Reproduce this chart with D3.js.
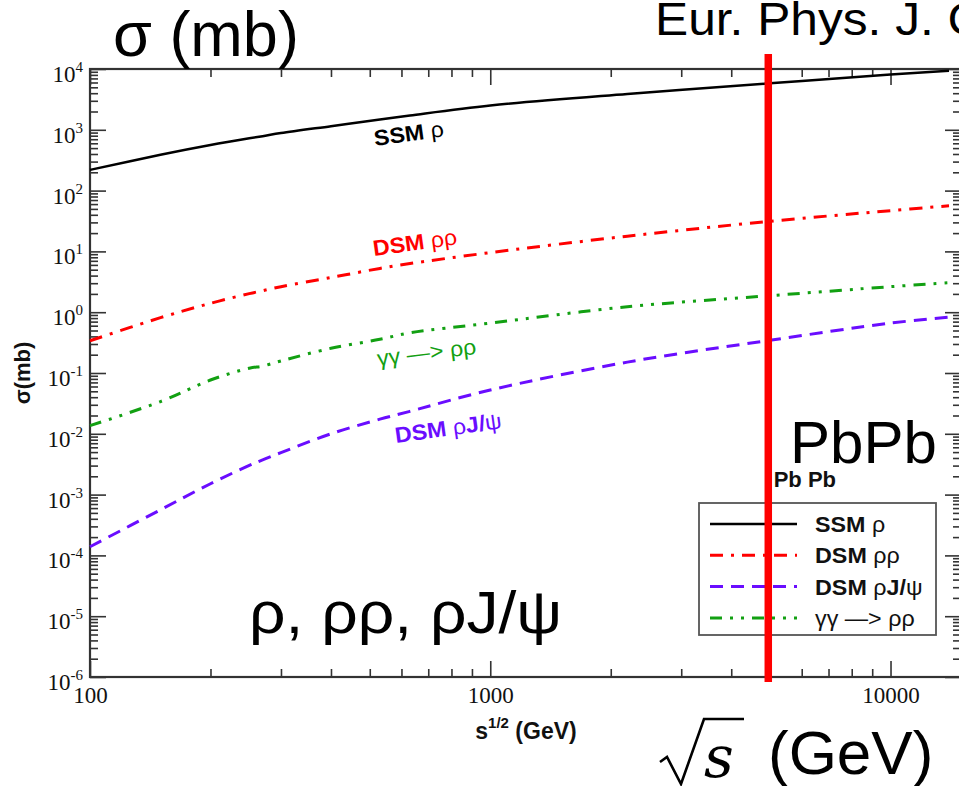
<!DOCTYPE html>
<html>
<head>
<meta charset="utf-8">
<script src="https://cdnjs.cloudflare.com/ajax/libs/d3/7.8.5/d3.min.js"></script>
<style>
	html, body { margin: 0; padding: 0; background: #fff; overflow: hidden; }
	svg { display: block; }
</style>
</head>
<body>
<script>
(function() {
	'use strict';

	// DATA //

	var ENERGIES = [ 100, 150, 200, 250, 270, 300, 400, 530, 630, 1000, 2200, 4900, 10000, 14000 ],
		SSM_RHO = [ 219, 389, 562, 724, 785, 883, 1148, 1479, 1722, 2512, 3890, 5754, 8128, 9333 ],
		DSM_RHORHO = [ 0.339, 0.813, 1.40, 2.02, 2.26, 2.63, 3.72, 5.25, 6.31, 9.55, 17.8, 30.9, 46.8, 56.2 ],
		DSM_RHOJPSI = [ 1.39e-4, 5.62e-4, 1.51e-3, 3.02e-3, 3.72e-3, 4.90e-3, 0.0100, 0.0174, 0.0234, 0.0525, 0.151, 0.339, 0.661, 0.832 ],
		GG_RHORHO = [ 0.0136, 0.0339, 0.0767, 0.120, 0.130, 0.158, 0.255, 0.358, 0.457, 0.661, 1.23, 1.85, 2.63, 3.05 ],
		X_TICKS = [ 100, 1000, 10000 ],
		X_TICK_LABELS = [ '100', '1000', '10000' ],
		Y_EXPONENTS = [ -6, -5, -4, -3, -2, -1, 0, 1, 2, 3, 4 ],
		PBPB_ENERGY = 4950;


	// VARIABLES //

	var WIDTH = 959,
		HEIGHT = 786,
		LEFT = 90,
		RIGHT = 961,
		TOP = 69,
		BOTTOM = 677,
		AXIS = '#333',
		SANS = '"Liberation Sans", Arial, Helvetica, sans-serif',
		SERIF = '"Liberation Serif", "Times New Roman", serif';

	var series = [
		{ values: SSM_RHO, color: '#000', dash: null, width: 2.5,
			label: [ [ 'SSM ', 'bold' ], [ 'ρ', 'normal' ] ], at: [ 375, 146 ], rot: -8 },
		{ values: DSM_RHORHO, color: '#ff0000', dash: '13,8,3,8', width: 3,
			label: [ [ 'DSM ', 'bold' ], [ 'ρρ', 'normal' ] ], at: [ 374, 256 ], rot: -8 },
		{ values: DSM_RHOJPSI, color: '#6a0dff', dash: '13,8', width: 3,
			label: [ [ 'DSM ', 'bold' ], [ 'ρ', 'normal' ], [ 'J/', 'bold' ], [ 'ψ', 'normal' ] ], at: [ 396, 443 ], rot: -8 },
		{ values: GG_RHORHO, color: '#12a012', dash: '12,8,3,8,3,8', width: 3,
			label: [ [ 'γγ —> ρρ', 'normal' ] ], at: [ 378, 366 ], rot: -7 }
	];


	// SCALES //

	var x = d3.scaleLog().domain( [ 100, 15000 ] ).range( [ LEFT, RIGHT ] ),
		y = d3.scaleLog().domain( [ 1e-6, 1e4 ] ).range( [ BOTTOM, TOP ] );

	var xMinor = [],
		yMinor = [],
		e, k;
	for ( e = 2; e <= 4; e++ ) {
		for ( k = 2; k <= 9; k++ ) {
			if ( k * Math.pow( 10, e ) <= 15000 ) {
				xMinor.push( k * Math.pow( 10, e ) );
			}
		}
	}
	for ( e = -6; e < 4; e++ ) {
		for ( k = 2; k <= 9; k++ ) {
			yMinor.push( k * Math.pow( 10, e ) );
		}
	}
	var yMajor = Y_EXPONENTS.map( function ( p ) { return Math.pow( 10, p ); } );


	// CANVAS //

	var svg = d3.select( 'body' ).append( 'svg' )
		.attr( 'width', WIDTH )
		.attr( 'height', HEIGHT )
		.attr( 'viewBox', '0 0 ' + WIDTH + ' ' + HEIGHT );

	svg.append( 'rect' )
		.attr( 'width', WIDTH )
		.attr( 'height', HEIGHT )
		.attr( 'fill', '#fff' );

	// Axes (ticks point inward on all four sides):
	function styleAxis( g ) {
		g.select( '.domain' ).remove();
		g.selectAll( '.tick line' ).attr( 'stroke', AXIS ).attr( 'stroke-width', 1.6 );
	}

	function noLabel() { return ''; }

	svg.append( 'g' )
		.attr( 'transform', 'translate(0,' + BOTTOM + ')' )
		.call( d3.axisBottom( x ).tickValues( xMinor ).tickSize( -8 ).tickFormat( noLabel ) )
		.call( styleAxis );

	svg.append( 'g' )
		.attr( 'transform', 'translate(0,' + BOTTOM + ')' )
		.call( d3.axisBottom( x ).tickValues( X_TICKS ).tickSize( -16 ).tickPadding( 10 )
			.tickFormat( function ( d, i ) { return X_TICK_LABELS[ i ]; } ) )
		.call( styleAxis )
		.selectAll( 'text' )
			.attr( 'font-family', SERIF )
			.attr( 'font-size', 23 )
			.attr( 'fill', '#111' );

	svg.append( 'g' )
		.attr( 'transform', 'translate(0,' + TOP + ')' )
		.call( d3.axisTop( x ).tickValues( xMinor ).tickSize( -8 ).tickFormat( noLabel ) )
		.call( styleAxis );

	svg.append( 'g' )
		.attr( 'transform', 'translate(0,' + TOP + ')' )
		.call( d3.axisTop( x ).tickValues( X_TICKS ).tickSize( -16 ).tickFormat( noLabel ) )
		.call( styleAxis );

	[ [ LEFT, d3.axisLeft ], [ RIGHT, d3.axisRight ] ].forEach( function ( side ) {
		svg.append( 'g' )
			.attr( 'transform', 'translate(' + side[ 0 ] + ',0)' )
			.call( side[ 1 ]( y ).tickValues( yMinor ).tickSize( -8 ).tickFormat( noLabel ) )
			.call( styleAxis );
		svg.append( 'g' )
			.attr( 'transform', 'translate(' + side[ 0 ] + ',0)' )
			.call( side[ 1 ]( y ).tickValues( yMajor ).tickSize( -16 ).tickFormat( noLabel ) )
			.call( styleAxis );
	});

	// Frame:
	svg.append( 'rect' )
		.attr( 'x', x( 100 ) )
		.attr( 'y', y( 1e4 ) )
		.attr( 'width', x( 15000 ) - x( 100 ) )
		.attr( 'height', y( 1e-6 ) - y( 1e4 ) )
		.attr( 'fill', 'none' )
		.attr( 'stroke', AXIS )
		.attr( 'stroke-width', 2.2 );

	// Y tick labels as 10^n:
	var yLabels = svg.append( 'g' )
		.attr( 'font-family', SERIF )
		.attr( 'fill', '#111' )
		.selectAll( 'text' )
		.data( Y_EXPONENTS )
	  .enter().append( 'text' )
		.attr( 'x', 83 )
		.attr( 'y', function ( d ) { return y( Math.pow( 10, d ) ) + 13; } )
		.attr( 'text-anchor', 'end' );
	yLabels.append( 'tspan' )
		.attr( 'font-size', 23 )
		.text( '10' );
	yLabels.append( 'tspan' )
		.attr( 'font-size', 15 )
		.attr( 'dy', -10 )
		.text( function ( d ) { return String( d ); } );

	// Axis titles:
	svg.append( 'text' )
		.attr( 'transform', 'translate(30,' + ( ( TOP + BOTTOM ) / 2 ) + ') rotate(-90)' )
		.attr( 'text-anchor', 'middle' )
		.attr( 'font-family', SANS )
		.attr( 'font-weight', 'bold' )
		.attr( 'font-size', 22 )
		.attr( 'fill', '#111' )
		.text( 'σ(mb)' );

	var xTitle = svg.append( 'text' )
		.attr( 'x', 526 )
		.attr( 'y', 739 )
		.attr( 'text-anchor', 'middle' )
		.attr( 'font-family', SANS )
		.attr( 'font-weight', 'bold' )
		.attr( 'font-size', 23 )
		.attr( 'fill', '#111' );
	xTitle.append( 'tspan' ).text( 's' );
	xTitle.append( 'tspan' ).attr( 'font-size', 15 ).attr( 'dy', -11 ).text( '1/2' );
	xTitle.append( 'tspan' ).attr( 'dy', 11 ).text( ' (GeV)' );


	// CURVES //

	var line = d3.line()
		.x( function ( d ) { return x( d[ 0 ] ); } )
		.y( function ( d ) { return y( d[ 1 ] ); } )
		.curve( d3.curveCatmullRom.alpha( 0.5 ) );

	var plot = svg.append( 'g' );

	series.forEach( function ( s ) {
		plot.append( 'path' )
			.datum( ENERGIES.map( function ( en, i ) { return [ en, s.values[ i ] ]; } ) )
			.attr( 'd', line )
			.attr( 'fill', 'none' )
			.attr( 'stroke', s.color )
			.attr( 'stroke-width', s.width )
			.attr( 'stroke-dasharray', s.dash );

		var t = plot.append( 'text' )
			.attr( 'transform', 'translate(' + s.at[ 0 ] + ',' + s.at[ 1 ] + ') rotate(' + s.rot + ') scale(1.06,1)' )
			.attr( 'font-family', SANS )
			.attr( 'font-size', 22 )
			.attr( 'fill', s.color );
		s.label.forEach( function ( part ) {
			t.append( 'tspan' ).attr( 'font-weight', part[ 1 ] ).text( part[ 0 ] );
		});
	});


	// LEGEND //

	var LEG_X = 699,
		LEG_Y = 503,
		LEG_W = 237,
		LEG_H = 132;

	var legend = svg.append( 'g' );
	legend.append( 'rect' )
		.attr( 'x', LEG_X )
		.attr( 'y', LEG_Y )
		.attr( 'width', LEG_W )
		.attr( 'height', LEG_H )
		.attr( 'fill', '#fff' )
		.attr( 'stroke', '#555' )
		.attr( 'stroke-width', 1.8 );

	series.forEach( function ( s, i ) {
		var ry = LEG_Y + 21 + i * 31.3;
		legend.append( 'line' )
			.attr( 'x1', LEG_X + 11 )
			.attr( 'x2', LEG_X + 98 )
			.attr( 'y1', ry )
			.attr( 'y2', ry )
			.attr( 'stroke', s.color )
			.attr( 'stroke-width', s.width )
			.attr( 'stroke-dasharray', s.dash );
		var t = legend.append( 'text' )
			.attr( 'transform', 'translate(' + ( LEG_X + 116 ) + ',' + ( ry + 8 ) + ') scale(1.06,1)' )
			.attr( 'font-family', SANS )
			.attr( 'font-size', 22 )
			.attr( 'fill', '#111' );
		s.label.forEach( function ( part ) {
			t.append( 'tspan' ).attr( 'font-weight', part[ 1 ] ).text( part[ 0 ] );
		});
	});


	// ANNOTATIONS //

	svg.append( 'text' )
		.attr( 'x', 836 )
		.attr( 'y', 487 )
		.attr( 'text-anchor', 'end' )
		.attr( 'font-family', SANS )
		.attr( 'font-weight', 'bold' )
		.attr( 'font-size', 22 )
		.attr( 'fill', '#111' )
		.text( 'Pb Pb' );

	var big = svg.append( 'g' )
		.attr( 'font-family', SANS )
		.attr( 'fill', '#000' );

	big.append( 'text' ).attr( 'x', 113 ).attr( 'y', 56 ).attr( 'font-size', 63 ).text( 'σ (mb)' );
	big.append( 'text' )
		.attr( 'transform', 'translate(655,35) scale(1.08,1)' )
		.attr( 'font-size', 46 )
		.text( 'Eur. Phys. J. C' );
	big.append( 'text' ).attr( 'x', 790 ).attr( 'y', 463 ).attr( 'font-size', 60 ).text( 'PbPb' );
	big.append( 'text' )
		.attr( 'transform', 'translate(249,633) scale(1.07,1)' )
		.attr( 'font-size', 60 )
		.text( 'ρ, ρρ, ρJ/ψ' );
	big.append( 'text' ).attr( 'x', 768 ).attr( 'y', 774 ).attr( 'font-size', 62 ).text( '(GeV)' );
	big.append( 'text' )
		.attr( 'x', 704 )
		.attr( 'y', 777 )
		.attr( 'font-family', '"DejaVu Serif", serif' )
		.attr( 'font-style', 'italic' )
		.attr( 'font-size', 58 )
		.text( 's' );

	// Radical sign over the s:
	svg.append( 'path' )
		.attr( 'd', 'M660,762 L667,757 L681,784 L704,719 L744,719' )
		.attr( 'fill', 'none' )
		.attr( 'stroke', '#000' )
		.attr( 'stroke-width', 2.6 )
		.attr( 'stroke-linejoin', 'miter' );

	// Red marker at the PbPb energy:
	svg.append( 'line' )
		.attr( 'x1', x( PBPB_ENERGY ) )
		.attr( 'x2', x( PBPB_ENERGY ) )
		.attr( 'y1', y( 1e4 ) - 15 )
		.attr( 'y2', y( 1e-6 ) + 5 )
		.attr( 'stroke', '#ff0000' )
		.attr( 'stroke-width', 7.5 );

})();
</script>
</body>
</html>
